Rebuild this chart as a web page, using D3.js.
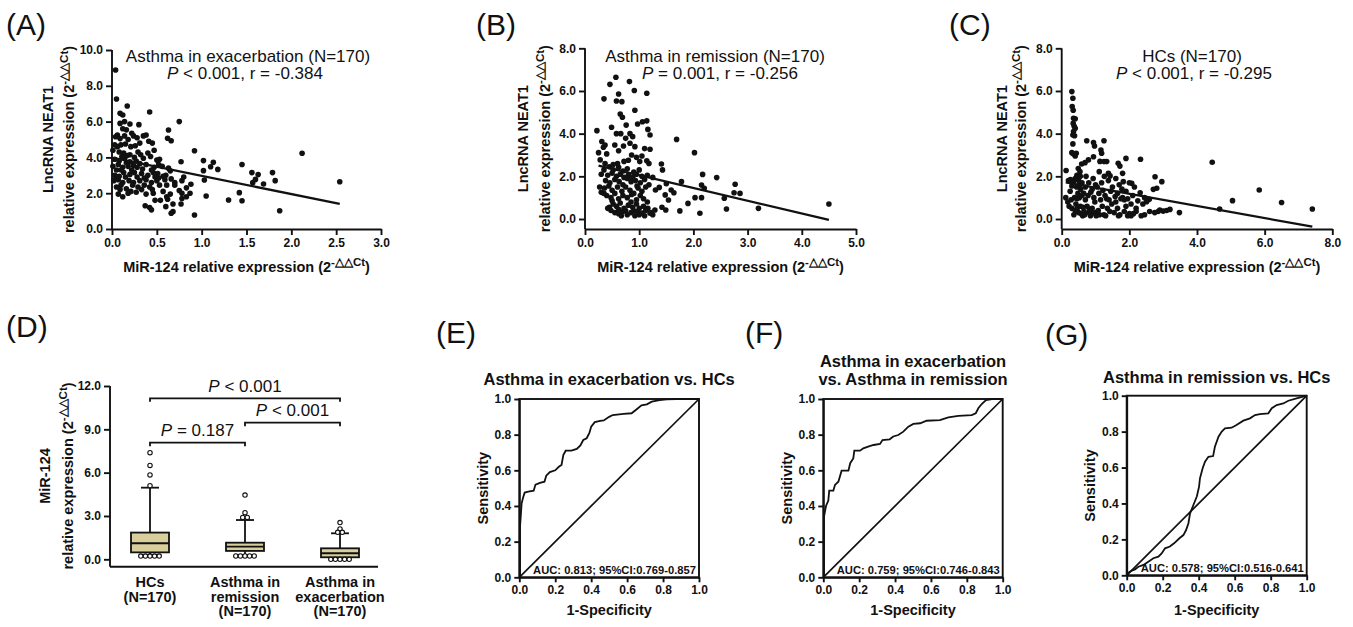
<!DOCTYPE html>
<html>
<head>
<meta charset="utf-8">
<script src="https://cdn.jsdelivr.net/npm/d3@7"></script>
<style>
  body { margin: 0; background: #fff; }
  svg { font-family: "Liberation Sans", Arial, Helvetica, sans-serif; }
  .axis path, .axis line { stroke: #111; stroke-width: 1.9px; }
  .axis text { font-size: 12px; font-weight: bold; fill: #111; font-family: "Liberation Sans", Arial, sans-serif; }
  .lab { font-size: 14.5px; font-weight: bold; fill: #111; }
  .tag { font-size: 30px; fill: #111; }
</style>
</head>
<body>
<svg id="fig" width="1353" height="627"></svg>
<script>
'use strict';

// ---- data ----

// (A) asthma in exacerbation: [miR-124, NEAT1]
var exacScatter = [
  [0.04,8.88],[0.05,7.26],[0.17,6.87],[0.09,6.46],[0.12,6.37],[0.42,6.54],[0.14,6.0],[0.09,5.9],[0.2,5.87],[0.3,5.83],
  [0.16,5.54],[0.06,5.25],[0.22,5.35],[0.14,5.2],[0.04,5.15],[0.09,5.05],[0.18,5.0],[0.24,5.2],[0.35,5.2],[0.38,5.25],
  [0.06,4.6],[0.1,4.7],[0.15,4.75],[0.21,4.6],[0.26,4.65],[0.31,4.8],[0.41,4.9],[0.45,4.8],
  [0.01,4.4],[0.08,4.3],[0.13,4.25],[0.2,4.15],[0.29,4.3],[0.4,4.25],
  [0.03,3.9],[0.08,3.8],[0.14,3.95],[0.2,3.75],[0.27,3.8],[0.35,3.95],[0.43,4.05],[0.5,3.85],[0.53,3.9],
  [0.01,3.5],[0.07,3.6],[0.12,3.45],[0.18,3.5],[0.24,3.55],[0.31,3.65],[0.38,3.6],[0.47,3.45],[0.52,3.6],[0.56,3.5],[0.63,3.4],[0.65,3.25],
  [0.03,3.0],[0.08,2.95],[0.13,3.15],[0.2,3.05],[0.25,3.15],[0.33,3.1],[0.4,3.0],[0.46,3.15],[0.51,3.1],[0.57,2.95],
  [0.02,2.7],[0.07,2.75],[0.12,2.6],[0.19,2.7],[0.24,2.6],[0.31,2.7],[0.38,2.75],[0.44,2.6],[0.5,2.7],[0.59,2.75],[0.66,2.8],[0.7,2.6],[0.78,2.7],[0.8,2.9],
  [0.05,2.35],[0.1,2.45],[0.16,2.25],[0.23,2.45],[0.29,2.35],[0.36,2.45],[0.42,2.35],[0.53,2.45],[0.61,2.45],[0.7,2.45],[0.75,2.15],
  [0.07,1.95],[0.12,1.8],[0.21,2.1],[0.27,2.05],[0.38,1.95],[0.46,2.0],[0.57,2.1],[0.65,1.95],[0.78,2.0],[0.83,2.3],[0.88,2.5],[0.78,1.7],
  [0.48,1.6],[0.54,1.6],[0.61,1.8],[0.62,1.66],[0.68,1.4],[0.77,1.4],[0.83,1.8],[0.87,2.0],
  [0.37,1.3],[0.42,1.2],[0.44,1.07],[0.6,1.25],[0.66,0.88],[0.68,0.97],[0.92,0.78],
  [0.66,4.93],[0.75,6.0],[0.77,3.76],[0.92,4.37],[1.02,3.82],[1.02,3.26],[1.03,2.74],[1.05,1.84],[1.1,3.48],[1.13,3.73],
  [1.18,3.33],[1.3,1.62],[1.42,2.03],[1.45,3.6],[1.45,1.58],[1.56,3.15],[1.57,2.59],[1.6,2.77],[1.63,3.04],[1.69,2.51],
  [1.79,3.15],[1.82,2.7],[1.87,1.02],[2.12,4.23],[2.54,2.64],
  [0.05,3.3],[0.1,3.3],[0.16,3.7],[0.22,3.3],[0.28,3.45],[0.34,3.35],[0.44,3.3],[0.06,2.9],[0.15,2.9],[0.28,2.9],
  [0.36,2.85],[0.48,2.9],[0.11,4.05],[0.17,4.1],[0.25,4.0],[0.32,4.15],[0.47,4.4],[0.03,4.7],[0.12,5.6],[0.28,5.1],
  [0.62,5.07],[0.63,5.53],[0.09,2.2],[0.18,2.0],[0.33,2.2],[0.45,2.2],[0.52,2.85],[0.6,3.0]
];

// (B) asthma in remission
var remScatter = [
  [0.57,6.64],[0.46,6.31],[0.82,6.44],[0.35,5.63],[0.62,5.86],[0.91,6.02],[1.14,5.89],[0.58,5.53],[0.68,5.5],[0.92,5.1],
  [0.65,4.92],[0.69,4.77],[1.06,4.56],[0.97,4.45],[1.14,4.6],[0.49,4.3],[0.76,4.4],[1.16,4.2],[1.2,3.94],[0.22,4.14],
  [0.58,4.0],[0.66,4.0],[0.83,4.0],[0.88,3.86],[1.1,3.3],[1.2,3.27],[0.31,3.63],[0.37,3.47],[0.34,3.36],[0.55,3.47],
  [0.71,3.42],[0.75,3.78],[0.83,3.55],[0.92,3.39],[1.69,3.73],[2.02,3.11],[0.25,3.11],[0.4,3.05],[0.86,3.0],[0.95,2.89],
  [1.14,2.73],[1.18,2.6],[1.01,2.69],[0.28,2.77],[0.37,2.6],[1.41,2.58],[1.43,2.3],[0.62,3.2],[0.8,2.75],[1.05,2.95],
  [1.78,1.75],[2.15,1.59],[2.17,2.09],[2.2,1.44],[2.43,1.94],[2.75,1.23],[2.86,1.2],[2.77,1.63],[2.57,0.97],[2.61,0.47],
  [3.2,0.5],[4.5,0.7],[2.12,0.27],[1.9,0.73],[2.03,1.0],[2.15,1.0],[1.75,0.38],[1.54,0.89],[1.49,0.42],[1.59,1.36],
  [1.64,1.23],[1.37,1.48],[1.48,1.13],[1.3,1.36],[1.2,0.27],[1.29,0.42],[1.42,0.55],[1.25,0.2],
  [0.45,2.45],[0.52,2.3],[0.62,2.42],[0.7,2.25],[0.78,2.35],[0.9,2.2],[1.0,2.3],[0.35,2.3],
  [0.3,2.1],[0.42,2.05],[0.5,2.15],[0.58,2.0],[0.65,2.1],[0.72,1.95],[0.8,2.05],[0.88,1.95],[0.95,2.1],[1.05,2.0],[1.15,2.05],[1.25,1.95],
  [0.27,1.5],[0.38,1.8],[0.46,1.7],[0.55,1.85],[0.63,1.75],[0.7,1.6],[0.78,1.9],[0.85,1.75],[0.93,1.8],[1.02,1.7],[1.1,1.85],[1.18,1.6],[1.5,1.65],
  [0.3,1.25],[0.36,1.45],[0.44,1.55],[0.5,1.35],[0.6,1.5],[0.68,1.3],[0.75,1.5],[0.83,1.35],[0.9,1.2],[0.98,1.45],[1.05,1.3],[1.12,1.5],[0.35,1.2],
  [0.4,1.1],[0.48,1.0],[0.55,1.2],[0.62,0.95],[0.7,1.1],[0.78,1.0],[0.86,1.15],[0.95,0.9],[1.02,1.1],[1.08,0.95],[1.15,0.8],[0.5,0.85],
  [0.45,0.55],[0.52,0.7],[0.58,0.6],[0.65,0.75],[0.72,0.5],[0.8,0.65],[0.88,0.55],[0.95,0.7],[1.0,0.5],[1.08,0.6],[1.16,0.5],[0.62,0.45],[0.85,0.8],
  [0.48,0.4],[0.55,0.3],[0.62,0.25],[0.7,0.35],[0.78,0.2],[0.85,0.3],[0.92,0.15],[0.97,0.35],[1.0,0.2],[1.05,0.28],[1.12,0.4],[0.67,0.15],[0.75,0.4],[0.9,0.38],[1.1,0.15],
  [0.6,2.6],[0.72,2.7],[0.52,2.55],[0.96,1.55],[0.42,0.5],[1.22,0.3]
];

// (C) healthy controls
var hcScatter = [
  [0.3,5.97],[0.33,5.66],[0.31,5.27],[0.34,5.1],[0.35,4.72],[0.4,4.7],[0.34,4.48],[0.37,4.35],[0.4,4.25],[0.35,4.1],
  [0.33,3.94],[0.38,3.9],[0.33,3.52],[0.3,3.11],[0.35,3.05],[0.43,3.08],[0.4,2.95],
  [0.74,3.67],[0.94,3.58],[0.97,3.42],[1.25,3.67],[1.16,3.23],[1.18,3.08],[0.94,2.92],[0.79,2.77],[1.13,2.7],[1.25,2.69],
  [1.33,2.69],[1.67,2.61],[1.72,2.48],[1.9,2.84],[2.33,2.8],[4.45,2.66],[0.59,2.58],[0.69,2.64],[0.49,2.37],[0.54,2.22],
  [0.13,2.27],[1.11,2.22],[1.38,2.14],[1.43,2.02],[1.8,2.14],[2.07,1.67],[2.76,1.98],[2.96,1.75],[2.81,1.44],[2.71,1.39],
  [2.59,0.92],[2.51,0.81],[2.32,1.23],[5.84,1.36],[5.05,0.86],[6.5,0.77],[7.41,0.47],[4.67,0.47],[3.48,0.3],[3.1,0.4],
  [3.0,0.37],[2.85,0.35],[2.75,0.3],[2.6,0.35],[2.45,0.2],[2.35,0.15],[2.2,0.35],[3.2,0.45],[2.9,0.42],
  [0.12,1.0],[0.2,1.8],[0.22,0.6],[0.25,1.3],[0.28,0.9],[0.3,0.5],[0.18,0.8],[0.26,1.85],
  [0.35,1.75],[0.4,1.9],[0.45,2.05],[0.5,1.8],[0.55,2.0],[0.6,1.7],[0.38,1.0],[0.42,0.7],[0.46,0.5],[0.5,0.3],
  [0.55,0.6],[0.58,0.25],[0.4,0.4],[0.48,1.2],[0.52,1.0],[0.6,1.1],[0.44,1.5],[0.56,1.4],[0.36,0.2],[0.62,0.15],
  [0.65,1.2],[0.7,0.9],[0.75,0.6],[0.8,0.3],[0.85,0.15],[0.9,0.5],[0.95,1.0],[0.7,1.5],[0.8,1.7],[0.9,1.4],
  [1.0,1.6],[0.68,0.2],[0.78,1.1],[0.98,0.8],[0.88,0.25],[1.0,0.3],
  [1.05,1.5],[1.1,1.2],[1.15,0.9],[1.2,0.6],[1.25,0.2],[1.3,0.15],[1.35,0.5],[1.4,0.9],[1.45,1.3],[1.5,1.5],
  [1.08,0.4],[1.18,1.7],[1.28,1.1],[1.38,1.8],[1.48,0.7],[1.12,0.2],[1.33,0.95],
  [1.55,0.3],[1.6,0.8],[1.65,1.2],[1.7,1.6],[1.75,0.95],[1.8,1.0],[1.85,0.9],[1.9,0.6],[1.95,0.15],[2.0,0.25],
  [2.05,0.7],[2.1,1.1],[2.15,1.5],[2.2,0.5],[1.6,1.9],[1.72,0.2],[1.9,1.3],[2.0,1.7],[1.85,0.35],[2.12,0.25],
  [1.78,1.4],[1.65,0.5],[2.25,0.85],[2.4,0.7],[2.45,1.0],
  [0.45,0.95],[0.53,1.6],[0.63,0.55],[0.72,2.0],[0.82,0.45],[0.93,1.9],[1.02,0.15],[1.22,1.35],[1.42,0.35],[1.58,1.05],
  [1.68,0.15],[1.82,1.75],[1.95,0.95],[2.05,0.15],[0.3,1.55],[0.66,0.35],[0.86,1.25],[1.26,2.0]
];

// fitted regression lines, endpoints [x, y]
var exacFitLine = [[0.04, 3.95], [2.54, 1.40]];
var remFitLine = [[0.25, 2.50], [4.50, -0.04]];
var hcFitLine = [[0.12, 1.72], [7.41, -0.36]];

var scatterTitles = ['Asthma in exacerbation (N=170)', 'Asthma in remission (N=170)', 'HCs (N=170)'];
var scatterStats = [['<', '0.001', '-0.384'], ['=', '0.001', '-0.256'], ['<', '0.001', '-0.295']];

// (D) box plot, 5-95 percentile whiskers
var boxGroups = ['HCs', 'Asthma in remission', 'Asthma in exacerbation'];
var boxGroupLines = [['HCs', '(N=170)'], ['Asthma in', 'remission', '(N=170)'], ['Asthma in', 'exacerbation', '(N=170)']];
var boxQ1 = [0.48, 0.58, 0.14];
var boxMedian = [1.11, 0.88, 0.42];
var boxQ3 = [1.85, 1.15, 0.76];
var boxWhiskerLow = [0.30, 0.30, 0.05];
var boxWhiskerHigh = [4.96, 2.72, 1.80];
var boxHighOutliers = [[7.38, 6.50, 5.84, 5.10], [4.45, 3.23, 2.90, 2.90], [2.54, 2.10, 1.87, 1.87]];
var boxLowOutliers = [[0.22, 0.22, 0.22, 0.22, 0.22], [0.23, 0.23, 0.23, 0.23, 0.23], [0.0, 0.0, 0.0, 0.0, 0.0]];
var boxComparisons = [[0, 2, '< 0.001'], [1, 2, '< 0.001'], [0, 1, '= 0.187']];

// (E)-(G) ROC curves: [1-specificity, sensitivity]
var rocExacVsHc = [[0,0],[0.004,0.0],[0.004,0.284],[0.013,0.415],[0.022,0.45],[0.03,0.475],[0.05,0.48],[0.08,0.486],
  [0.09,0.52],[0.115,0.53],[0.14,0.536],[0.15,0.57],[0.17,0.59],[0.2,0.6],[0.22,0.62],[0.235,0.63],[0.245,0.686],
  [0.258,0.71],[0.29,0.71],[0.32,0.72],[0.34,0.74],[0.356,0.77],[0.375,0.78],[0.39,0.81],[0.4,0.845],[0.42,0.87],
  [0.45,0.877],[0.47,0.88],[0.5,0.9],[0.52,0.91],[0.58,0.916],[0.625,0.92],[0.65,0.94],[0.68,0.965],[0.71,0.97],
  [0.737,0.985],[0.78,0.994],[0.82,0.998],[0.876,1],[1,1]];
var rocExacVsRem = [[0,0],[0.004,0.0],[0.004,0.34],[0.015,0.40],[0.028,0.43],[0.033,0.486],[0.056,0.486],[0.065,0.518],
  [0.084,0.536],[0.102,0.598],[0.14,0.598],[0.15,0.64],[0.167,0.667],[0.173,0.71],[0.205,0.71],[0.223,0.723],[0.25,0.733],
  [0.28,0.742],[0.316,0.748],[0.33,0.77],[0.37,0.774],[0.39,0.79],[0.418,0.798],[0.446,0.817],[0.474,0.845],[0.502,0.86],
  [0.54,0.864],[0.576,0.878],[0.65,0.882],[0.697,0.897],[0.753,0.905],[0.827,0.91],[0.85,0.92],[0.864,0.948],[0.883,0.972],
  [0.907,0.994],[0.94,1],[1,1]];
var rocRemVsHc = [[0,0],[0.01,0.015],[0.028,0.026],[0.046,0.033],[0.065,0.048],[0.093,0.058],[0.12,0.076],[0.148,0.095],
  [0.176,0.104],[0.194,0.122],[0.213,0.15],[0.24,0.16],[0.263,0.178],[0.293,0.206],[0.315,0.224],[0.33,0.252],[0.343,0.29],
  [0.352,0.345],[0.37,0.39],[0.39,0.44],[0.402,0.494],[0.407,0.54],[0.422,0.596],[0.435,0.633],[0.454,0.66],[0.48,0.664],
  [0.49,0.716],[0.51,0.772],[0.528,0.8],[0.546,0.818],[0.583,0.822],[0.61,0.837],[0.648,0.861],[0.685,0.874],[0.713,0.892],
  [0.74,0.898],[0.787,0.902],[0.806,0.93],[0.833,0.948],[0.87,0.957],[0.898,0.972],[0.944,0.985],[1,1]];
var rocTitles = [['Asthma in exacerbation vs. HCs'], ['Asthma in exacerbation', 'vs. Asthma in remission'], ['Asthma in remission vs. HCs']];
var rocAuc = ['AUC: 0.813; 95%CI:0.769-0.857', 'AUC: 0.759; 95%CI:0.746-0.843', 'AUC: 0.578; 95%CI:0.516-0.641'];

// ---- drawing ----

var svg = d3.select('#fig');
var ink = '#111';
var fmt1 = d3.format('.1f');

function addTag(x, y, s) {
  svg.append('text').attr('class', 'tag').attr('x', x).attr('y', y).text(s);
}

// "(2^-ΔΔCt)" style label
function supText(text, before) {
  text.append('tspan').text(before + '(2');
  text.append('tspan').attr('font-size', 11.5).attr('dy', -6.5).text('-\u25B3\u25B3Ct');
  text.append('tspan').attr('dy', 6.5).text(')');
}

function yLabel(x1, x2, cy, line1, line2) {
  var g = svg.append('g').attr('transform', 'translate(' + x1 + ',' + cy + ') rotate(-90)');
  g.append('text').attr('class', 'lab').attr('text-anchor', 'middle').text(line1);
  if (line2 != null) {
    g.append('text').attr('class', 'lab').attr('text-anchor', 'middle')
        .attr('y', x2 - x1)
        .call(supText, line2);
  }
}

function drawScatter(L, pts, fitLine, title, stat) {
  var g = svg.append('g');
  var x = d3.scaleLinear().domain([0, L.xMax]).range([L.x0, L.x1]);
  var y = d3.scaleLinear().domain([0, L.yMax]).range([L.yZero, L.yTop]);

  g.append('g').attr('class', 'axis')
      .attr('transform', 'translate(0,' + L.axisY + ')')
      .call(d3.axisBottom(x).tickValues(d3.range(0, L.xMax + 1e-9, L.xStep))
        .tickFormat(fmt1).tickSize(6).tickPadding(3).tickSizeOuter(0));
  g.append('g').attr('class', 'axis')
      .attr('transform', 'translate(' + L.x0 + ',0)')
      .call(d3.axisLeft(y).tickValues(d3.range(0, L.yMax + 1e-9, L.yStep))
        .tickFormat(fmt1).tickSize(6).tickPadding(3).tickSizeOuter(0))
      .call(function(a) { a.select('.domain').attr('d', 'M0,' + L.yTop + 'V' + L.axisY); });

  g.selectAll('circle.pt').data(pts).enter().append('circle')
      .attr('class', 'pt')
      .attr('cx', function(d) { return x(d[0]); })
      .attr('cy', function(d) { return y(d[1]); })
      .attr('r', 2.8)
      .attr('fill', ink);

  g.append('path')
      .attr('d', d3.line().x(function(d) { return x(d[0]); }).y(function(d) { return y(d[1]); })(fitLine))
      .attr('stroke', ink).attr('stroke-width', 2.3).attr('fill', 'none');

  g.append('text').attr('x', L.titleX).attr('y', 62).attr('text-anchor', 'middle')
      .attr('font-size', 17).attr('fill', ink).text(title);
  var st = g.append('text').attr('x', L.title2X).attr('y', 79).attr('text-anchor', 'middle')
      .attr('font-size', 17).attr('fill', ink);
  st.append('tspan').attr('font-style', 'italic').text('P');
  st.append('tspan').text(' ' + stat[0] + ' ' + stat[1] + ', r = ' + stat[2]);

  yLabel(L.labX1, L.labX2, (L.yTop + L.axisY) / 2, 'LncRNA NEAT1', 'relative expression ');
  g.append('text').attr('class', 'lab').attr('text-anchor', 'middle')
      .attr('x', (L.x0 + L.x1) / 2).attr('y', 272)
      .call(supText, 'MiR-124 relative expression ');
  addTag(L.tagX, 35, L.tag);
}

var scatterLayouts = [
  {x0: 112, x1: 381, yTop: 50, yZero: 229, axisY: 229, xMax: 3, xStep: 0.5, yMax: 10, yStep: 2,
   titleX: 248, title2X: 245, labX1: 53, labX2: 74, tag: '(A)', tagX: 6},
  {x0: 585, x1: 856, yTop: 48.3, yZero: 219, axisY: 229, xMax: 5, xStep: 1, yMax: 8, yStep: 2,
   titleX: 715, title2X: 720, labX1: 528, labX2: 550, tag: '(B)', tagX: 476},
  {x0: 1061.7, x1: 1332.3, yTop: 48.3, yZero: 219, axisY: 229, xMax: 8, xStep: 2, yMax: 8, yStep: 2,
   titleX: 1192, title2X: 1194, labX1: 1007, labX2: 1026, tag: '(C)', tagX: 949}
];
drawScatter(scatterLayouts[0], exacScatter, exacFitLine, scatterTitles[0], scatterStats[0]);
drawScatter(scatterLayouts[1], remScatter, remFitLine, scatterTitles[1], scatterStats[1]);
drawScatter(scatterLayouts[2], hcScatter, hcFitLine, scatterTitles[2], scatterStats[2]);

// (D) box plot
(function() {
  var g = svg.append('g');
  var x = d3.scalePoint().domain(boxGroups).range([150, 340]);
  var y = d3.scaleLinear().domain([0, 12]).range([559.3, 386]);
  var axisY = 566.7, boxW = 38, capW = 18;

  g.append('g').attr('class', 'axis')
      .attr('transform', 'translate(110,0)')
      .call(d3.axisLeft(y).tickValues([0, 3, 6, 9, 12]).tickFormat(fmt1)
        .tickSize(6).tickPadding(3).tickSizeOuter(0))
      .call(function(a) { a.select('.domain').attr('d', 'M0,386V' + axisY); });
  g.append('line').attr('x1', 110).attr('x2', 378).attr('y1', axisY).attr('y2', axisY)
      .attr('stroke', ink).attr('stroke-width', 1.9);

  boxGroups.forEach(function(name, i) {
    var cx = x(name);
    var b = g.append('g').attr('stroke', ink).attr('stroke-width', 1.8);
    b.append('line').attr('x1', cx).attr('x2', cx)
        .attr('y1', y(boxWhiskerLow[i])).attr('y2', y(boxWhiskerHigh[i]));
    [boxWhiskerLow[i], boxWhiskerHigh[i]].forEach(function(v) {
      b.append('line').attr('x1', cx - capW / 2).attr('x2', cx + capW / 2)
          .attr('y1', y(v)).attr('y2', y(v));
    });
    b.append('rect').attr('x', cx - boxW / 2).attr('width', boxW)
        .attr('y', y(boxQ3[i])).attr('height', y(boxQ1[i]) - y(boxQ3[i]))
        .attr('fill', '#d8cf9c');
    b.append('line').attr('x1', cx - boxW / 2).attr('x2', cx + boxW / 2)
        .attr('y1', y(boxMedian[i])).attr('y2', y(boxMedian[i]));

    // outliers, tied values spread side by side
    [boxHighOutliers[i], boxLowOutliers[i]].forEach(function(vals) {
      var counts = d3.rollup(vals, function(v) { return v.length; }, function(v) { return v; });
      var seen = new Map();
      vals.forEach(function(v) {
        var n = counts.get(v), k = seen.get(v) || 0;
        seen.set(v, k + 1);
        g.append('circle')
            .attr('cx', cx + (k - (n - 1) / 2) * 4.6)
            .attr('cy', y(v))
            .attr('r', 2.2)
            .attr('fill', '#fff').attr('stroke', ink).attr('stroke-width', 1.1);
      });
    });

    boxGroupLines[i].forEach(function(s, j) {
      g.append('text').attr('class', 'lab').attr('text-anchor', 'middle')
          .attr('x', cx).attr('y', 587 + j * 14.5).text(s);
    });
  });

  var bracketY = [398.3, 422.7, 442.7];
  boxComparisons.forEach(function(c, i) {
    var xa = x(boxGroups[c[0]]), xb = x(boxGroups[c[1]]), by = bracketY[i];
    g.append('path')
        .attr('d', 'M' + xa + ',' + (by + 3.5) + 'V' + by + 'H' + xb + 'V' + (by + 3.5))
        .attr('fill', 'none').attr('stroke', ink).attr('stroke-width', 1.8);
    var t = g.append('text').attr('x', (xa + xb) / 2).attr('y', by - 6.5)
        .attr('text-anchor', 'middle').attr('font-size', 17).attr('fill', ink);
    t.append('tspan').attr('font-style', 'italic').text('P');
    t.append('tspan').text(' ' + c[2]);
  });

  yLabel(50, 73, 476, 'MiR-124', 'relative expression ');
  addTag(6, 337, '(D)');
})();

// (E)-(G) ROC curves
function drawRoc(L, pts, titleLines, auc) {
  var g = svg.append('g');
  var x = d3.scaleLinear().domain([0, 1]).range([L.x0, L.x1]);
  var y = d3.scaleLinear().domain([0, 1]).range([L.y1, L.y0]);
  var ticks = [0, 0.2, 0.4, 0.6, 0.8, 1];

  g.append('g').attr('class', 'axis').attr('transform', 'translate(0,' + L.y1 + ')')
      .call(d3.axisBottom(x).tickValues(ticks).tickFormat(fmt1).tickSize(5).tickPadding(3).tickSizeOuter(0));
  g.append('g').attr('class', 'axis').attr('transform', 'translate(' + L.x0 + ',0)')
      .call(d3.axisLeft(y).tickValues(ticks).tickFormat(fmt1).tickSize(5).tickPadding(3).tickSizeOuter(0));
  g.append('rect').attr('x', L.x0).attr('y', L.y0)
      .attr('width', L.x1 - L.x0).attr('height', L.y1 - L.y0)
      .attr('fill', 'none').attr('stroke', ink).attr('stroke-width', 1.9);

  g.append('line').attr('x1', x(0)).attr('y1', y(0)).attr('x2', x(1)).attr('y2', y(1))
      .attr('stroke', ink).attr('stroke-width', 1.7);
  g.append('path')
      .attr('d', d3.line().x(function(d) { return x(d[0]); }).y(function(d) { return y(d[1]); })(pts))
      .attr('fill', 'none').attr('stroke', ink).attr('stroke-width', 1.8);

  g.append('text').attr('x', L.x1 - 3).attr('y', L.y1 - 3.5).attr('text-anchor', 'end')
      .attr('font-size', 11.2).attr('font-weight', 'bold').attr('fill', ink).text(auc);

  titleLines.forEach(function(s, j) {
    g.append('text').attr('x', (L.x0 + L.x1) / 2)
        .attr('y', L.titleY - (titleLines.length - 1 - j) * 18.3)
        .attr('text-anchor', 'middle').attr('font-size', 16.5).attr('font-weight', 'bold')
        .attr('fill', ink).text(s);
  });

  yLabel(L.labX, null, (L.y0 + L.y1) / 2, 'Sensitivity');
  g.append('text').attr('class', 'lab').attr('text-anchor', 'middle')
      .attr('x', (L.x0 + L.x1) / 2).attr('y', 615).text('1-Specificity');
  addTag(L.tagX, L.tagY, L.tag);
}

var rocLayouts = [
  {x0: 519.3, x1: 699, y0: 399, y1: 577.3, titleY: 385, labX: 488, tag: '(E)', tagX: 436, tagY: 343},
  {x0: 823.3, x1: 1002.7, y0: 399, y1: 577.3, titleY: 385, labX: 792, tag: '(F)', tagX: 745, tagY: 343},
  {x0: 1126.7, x1: 1306.7, y0: 395.7, y1: 575.3, titleY: 383.3, labX: 1095, tag: '(G)', tagX: 1045, tagY: 345}
];
drawRoc(rocLayouts[0], rocExacVsHc, rocTitles[0], rocAuc[0]);
drawRoc(rocLayouts[1], rocExacVsRem, rocTitles[1], rocAuc[1]);
drawRoc(rocLayouts[2], rocRemVsHc, rocTitles[2], rocAuc[2]);
</script>
</body>
</html>
